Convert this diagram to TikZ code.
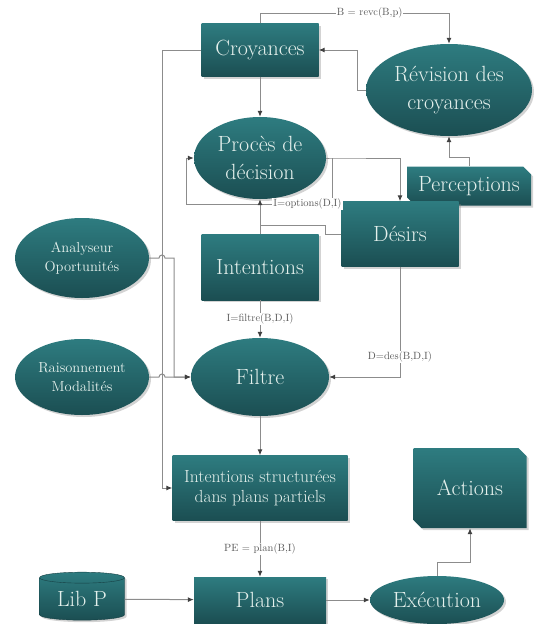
\documentclass[tikz,border=0pt]{standalone}
\usepackage{tikz}
\usetikzlibrary{arrows.meta,positioning,calc,shapes.geometric,shapes.misc,shadows}

\definecolor{tealtop}{RGB}{46,124,128}
\definecolor{tealbot}{RGB}{27,78,82}
\definecolor{boxtext}{RGB}{228,240,236}
\definecolor{wiregray}{RGB}{140,140,140}

\begin{document}
\begin{tikzpicture}[x=1pt,y=-1pt,
    shade/.style={top color=tealtop, bottom color=tealbot, text=boxtext,
        drop shadow={shadow xshift=2pt, shadow yshift=-2pt, opacity=0.35}},
    box/.style={shade, rectangle, inner sep=0pt},
    oval/.style={shade, ellipse, inner sep=0pt},
    card/.style={shade, chamfered rectangle, chamfered rectangle corners={north east,south west},
        chamfered rectangle xsep=4pt, chamfered rectangle ysep=4pt, inner sep=0pt},
    big/.style={font=\fontsize{22}{28}\selectfont, align=center},
    mid/.style={font=\fontsize{14.5}{19}\selectfont, align=center},
    lbl/.style={font=\fontsize{10.5}{12}\selectfont, text=black!65, fill=white, inner sep=1pt},
    wire/.style={draw=wiregray, line width=1pt},
    conn/.style={wire, -{Latex[length=6pt,width=5pt,color=black!75]}}]
    \useasboundingbox (0,0) rectangle (534,624);

    % noeuds
    \node [box,big,minimum width=117pt,minimum height=53pt] (cro) at (260,50) {Croyances};
    \node [oval,big,minimum width=166pt,minimum height=92pt] (rev) at (449,90) {R\'evision des\\croyances};
    \node [oval,big,minimum width=132pt,minimum height=82pt] (proc) at (260,158) {Proc\`es de\\d\'ecision};
    \node [card,big,minimum width=124pt,minimum height=39pt] (perc) at (469,186) {Perceptions};
    \node [box,big,minimum width=117pt,minimum height=65pt] (des) at (400,234) {D\'esirs};
    \node [box,big,minimum width=117pt,minimum height=66pt] (intn) at (260,267) {Intentions};
    \node [oval,mid,minimum width=134pt,minimum height=80pt] (ana) at (82,258) {Analyseur\\Oportunit\'es};
    \node [oval,mid,minimum width=134pt,minimum height=76pt] (rai) at (82,377) {Raisonnement\\Modalit\'es};
    \node [oval,big,minimum width=138pt,minimum height=78pt] (fil) at (260,377) {Filtre};
    \node [box,font=\fontsize{17.5}{20}\selectfont,align=center,minimum width=175pt,minimum height=65pt] (ist) at (260,488)
        {Intentions structur\'ees\\dans plans partiels};
    \node [card,big,minimum width=113pt,minimum height=80pt] (act) at (470,488) {Actions};
    \node [shade,big,cylinder,shape border rotate=90,aspect=0.22,inner sep=0pt,
        draw=tealbot!80!black,minimum width=85pt,minimum height=48pt] (lib) at (82,599) {Lib P};
    \node [box,big,minimum width=132pt,minimum height=46pt] (pla) at (260,600) {Plans};
    \node [oval,big,minimum width=134pt,minimum height=48pt] (exe) at (437,600) {Ex\'ecution};

    \coordinate (bus) at (162,0);
    \coordinate (col) at (174,0);
    \coordinate (lp) at ($(proc.west)+(-7,0)$);

    % connecteurs
    \draw [conn] (cro.north) -- ++(0,-10) coordinate (c1)
        -- node [lbl,pos=0.58] {B = revc(B,p)} (c1 -| rev.north) -- (rev.north);
    \draw [conn] (rev.west) -- ++(-8,0) |- (cro.east);
    \draw [conn] (cro) -- (proc);
    \draw [conn] (perc.north) -- ++(0,-9) -| (rev.south);
    \draw [conn] (proc.east) -- ++(6,0) coordinate (j1) -| (des.north);
    \draw [conn] (j1) -- ++(0,46) coordinate (j2)
        -- node [lbl,pos=0.17] {I=options(D,I)} (j2 -| lp) -- (lp) -- (proc.west);
    \draw [conn,{Latex[length=6pt,width=5pt,color=black!75]}-] (proc) -- (intn);
    \draw [wire] (des.west) -- ++(-16,0) |- ($(intn.north)+(0,-8)$);
    \draw [conn] (intn) -- node [lbl] {I=filtre(B,D,I)} (fil);
    \draw [conn] (des.south) |- node [lbl,pos=0.41] {D=des(B,D,I)} (fil.east);
    \draw [conn] (cro.west) -- (cro.west -| bus) |- (ist.west);
    \draw [conn] (ana.east) -- ([xshift=-3pt]ana.east -| bus) arc (180:360:3)
        -- (ana.east -| col) |- (fil.west);
    \draw [conn] (rai.east) -- ([xshift=-3pt]rai.east -| bus) arc (180:360:3) -- (fil.west);
    \draw [conn] (fil) -- (ist);
    \draw [conn] (ist) -- node [lbl] {PE = plan(B,I)} (pla);
    \draw [conn] (lib) -- (pla);
    \draw [conn] (pla) -- (exe);
    \draw [conn] (exe.north) -- ++(0,-13) -| (act.south);
\end{tikzpicture}
\end{document}
